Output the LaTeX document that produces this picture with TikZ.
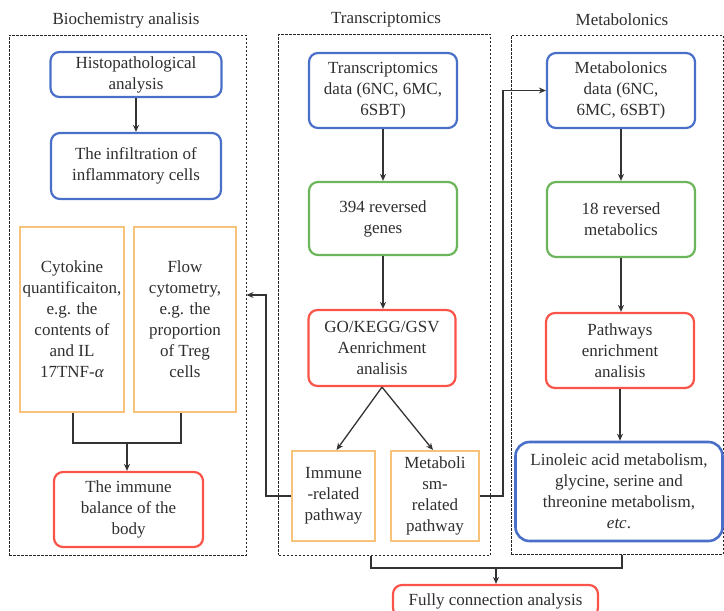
\documentclass[tikz,border=0pt]{standalone}
\usepackage{fontspec}
\setmainfont{Liberation Serif}
\usetikzlibrary{arrows.meta}
\definecolor{bx}{HTML}{4A6FC8}
\definecolor{gx}{HTML}{6DB55A}
\definecolor{rx}{HTML}{FA5449}
\definecolor{ox}{HTML}{F8C27A}
\definecolor{tx}{HTML}{2E2E2E}
\begin{document}
\begin{tikzpicture}[x=1pt,y=-1pt,
  font=\fontsize{17}{21}\selectfont, text=tx,
  box/.style={rounded corners=9pt, line width=2.2pt, align=center, inner sep=0pt},
  bluebox/.style={box, draw=bx},
  greenbox/.style={box, draw=gx},
  redbox/.style={box, draw=rx},
  orangebox/.style={draw=ox, line width=2pt, align=center, inner sep=0pt},
  frame/.style={draw=black!85, dash pattern=on 2.5pt off 1.5pt, line width=1pt, inner sep=0pt},
  ln/.style={line width=1.3pt, draw=black!80},
  arr/.style={ln, -{Stealth[length=7pt,width=6pt]}}]
\useasboundingbox (0,0) rectangle (724,611);

% headers
\node (h1) at (126,20) {Biochemistry analisis};
\node (h2) at (386,20) {Transcriptomics};
\node (h3) at (622,20) {Metabolonics};

% frames
\node[frame, minimum width=237pt, minimum height=520pt] (leftframe) at (127.5,295) {};
\node[frame, minimum width=212pt, minimum height=521pt] (midframe) at (384.5,294.5) {};
\node[frame, minimum width=212pt, minimum height=519pt] (rightframe) at (617,294.5) {};

% left column
\node[bluebox, minimum width=171pt, minimum height=45pt] (hist) at (136,74.5) {Histopathological\\analysis};
\node[bluebox, minimum width=170pt, minimum height=66pt] (infl) at (136,166) {The infiltration of\\inflammatory cells};
\node[orangebox, minimum width=104pt, minimum height=185pt] (cyto) at (72,319.5) {Cytokine\\quantificaiton,\\e.g. the\\contents of\\and IL\\17TNF-\textit{α}};
\node[orangebox, minimum width=102pt, minimum height=185pt] (flow) at (185,319.5) {Flow\\cytometry,\\e.g. the\\proportion\\of Treg\\cells};
\node[redbox, minimum width=149pt, minimum height=75pt] (immbal) at (128.5,509.5) {The immune\\balance of the\\body};

% middle column
\node[bluebox, minimum width=148pt, minimum height=75pt] (tdata) at (383,90.5) {Transcriptomics\\data (6NC, 6MC,\\6SBT)};
\node[greenbox, minimum width=148pt, minimum height=73pt] (genes) at (383,218.5) {394 reversed\\genes};
\node[redbox, minimum width=147pt, minimum height=76pt] (go) at (382,348) {GO/KEGG/GSV\\Aenrichment\\analisis};
\node[orangebox, minimum width=83pt, minimum height=90pt] (imm) at (333.5,496) {Immune\\-related\\pathway};
\node[orangebox, minimum width=88pt, minimum height=90pt] (met) at (435,496) {Metaboli\\sm-\\related\\pathway};

% right column
\node[bluebox, minimum width=148pt, minimum height=75pt] (mdata) at (621,90.5) {Metabolonics\\data (6NC,\\6MC, 6SBT)};
\node[greenbox, minimum width=148pt, minimum height=75pt] (mrev) at (621,219.5) {18 reversed\\metabolics};
\node[redbox, minimum width=148pt, minimum height=75pt] (path) at (620,350.5) {Pathways\\enrichment\\analisis};
\node[bluebox, rounded corners=14pt, line width=2.6pt, minimum width=207pt, minimum height=99pt] (lino) at (619,491.5) {Linoleic acid metabolism,\\glycine, serine and\\threonine metabolism,\\\textit{etc}.};

% bottom
\node[redbox, minimum width=205pt, minimum height=32pt] (fully) at (495.5,601) {Fully connection analysis};

% connectors
\draw[arr] (hist.south) -- (hist.south |- infl.north);
\coordinate (lj) at (127,443);
\draw[ln] ([xshift=1pt]cyto.south) |- (lj) -| ([xshift=-4pt]flow.south);
\draw[arr] (lj) -- (lj |- immbal.north);

\draw[arr] (tdata.south) -- (tdata.south |- genes.north);
\draw[arr] (genes.south) -- (genes.south |- go.north);
\draw[arr] (go.south) -- ([xshift=3pt]imm.north);
\draw[arr] (go.south) -- ([xshift=-2pt]met.north);
\draw[arr] (imm.west) -- ++(-25,0) |- (leftframe.east);
\draw[arr] (met.east) -- ++(23,0) |- (mdata.west);

\draw[arr] (mdata.south) -- (mdata.south |- mrev.north);
\draw[arr] (mrev.south) -- (mrev.south |- path.north);
\draw[arr] (path.south) -- (path.south |- lino.north);

\coordinate (bj) at (496,568);
\draw[ln] ([xshift=-13.5pt]midframe.south) |- (bj) -| ([xshift=5pt]rightframe.south);
\draw[arr] (bj) -- (bj |- fully.north);
\end{tikzpicture}
\end{document}
